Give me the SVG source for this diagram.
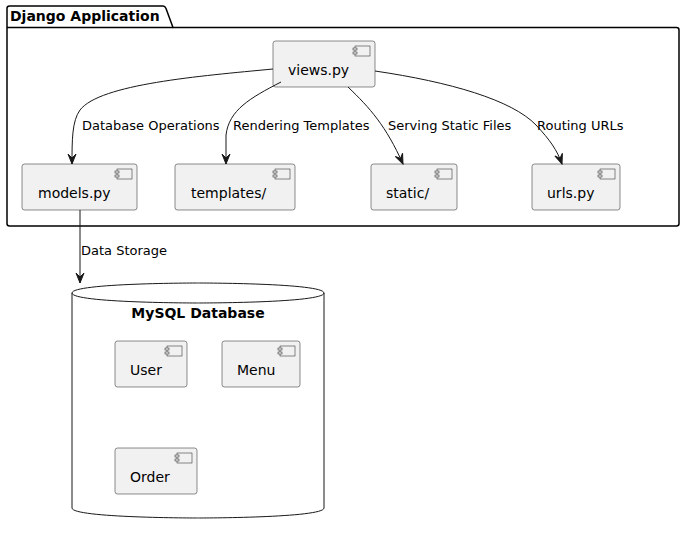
<svg xmlns="http://www.w3.org/2000/svg" width="685" height="534" viewBox="0 0 685 534">
<style>
text{font-family:"DejaVu Sans",sans-serif;fill:#000}
.comp{fill:#F1F1F1;stroke:#181818;stroke-width:0.5}
.icon{fill:#F1F1F1;stroke:#181818;stroke-width:0.5}
.name{font-size:14px}
.lbl{font-size:13px}
.title{font-size:14px;font-weight:bold}
.edge{fill:none;stroke:#181818;stroke-width:1}
</style>
<defs>
<marker id="ah" markerWidth="12" markerHeight="10" viewBox="-11 -5 12 10" refX="0" refY="0" orient="auto" markerUnits="userSpaceOnUse">
<path d="M0,0 L-10,-4 L-6,0 L-10,4 Z" fill="#181818" stroke="#181818" stroke-width="1"/>
</marker>
<g id="ic">
<rect x="0" y="0" width="15" height="10" class="icon"/>
<rect x="-2" y="2" width="4" height="2" class="icon"/>
<rect x="-2" y="6" width="4" height="2" class="icon"/>
</g>
</defs>
<rect width="685" height="534" fill="#FFFFFF"/>
<g id="pkg-django">
<path d="M9.5,6 L163,6 Q165,6 166,8.5 L173,27.5 L676.5,27.5 Q679,27.5 679,30 L679,223.5 Q679,226 676.5,226 L9.5,226 Q7,226 7,223.5 L7,8.5 Q7,6 9.5,6 Z" fill="none" stroke="#000" stroke-width="1.5"/>
<line x1="7" y1="27.5" x2="173" y2="27.5" stroke="#000" stroke-width="1.5"/>
<text x="10" y="21" class="title">Django Application</text>
</g>
<g id="db-mysql">
<path d="M72,293 C72,283 198,283 198,283 C198,283 324,283 324,293 L324,508 C324,518 198,518 198,518 C198,518 72,518 72,508 Z" fill="#FFFFFF" stroke="#181818" stroke-width="1"/>
<path d="M72,293 C72,303 198,303 198,303 C198,303 324,303 324,293" fill="none" stroke="#181818" stroke-width="1"/>
<text x="198" y="318" class="title" text-anchor="middle">MySQL Database</text>
</g>
<g id="views">
<rect x="273" y="41" width="102" height="46" rx="2.5" class="comp"/>
<use href="#ic" x="355" y="46"/>
<text x="288" y="75" class="name">views.py</text>
</g>
<g id="models">
<rect x="22" y="164" width="115" height="46" rx="2.5" class="comp"/>
<use href="#ic" x="117" y="169"/>
<text x="38" y="198" class="name">models.py</text>
</g>
<g id="templates">
<rect x="175" y="164" width="120" height="46" rx="2.5" class="comp"/>
<use href="#ic" x="275" y="169"/>
<text x="191" y="198" class="name">templates/</text>
</g>
<g id="static">
<rect x="371" y="164" width="86" height="46" rx="2.5" class="comp"/>
<use href="#ic" x="437" y="169"/>
<text x="386" y="198" class="name">static/</text>
</g>
<g id="urls">
<rect x="532" y="164" width="88" height="46" rx="2.5" class="comp"/>
<use href="#ic" x="600" y="169"/>
<text x="547" y="198" class="name">urls.py</text>
</g>
<g id="user">
<rect x="115" y="341" width="72" height="46" rx="2.5" class="comp"/>
<use href="#ic" x="167" y="346"/>
<text x="130" y="375" class="name">User</text>
</g>
<g id="menu">
<rect x="222" y="341" width="78" height="46" rx="2.5" class="comp"/>
<use href="#ic" x="280" y="346"/>
<text x="237" y="375" class="name">Menu</text>
</g>
<g id="order">
<rect x="115" y="448" width="82" height="46" rx="2.5" class="comp"/>
<use href="#ic" x="177" y="453"/>
<text x="130" y="482" class="name">Order</text>
</g>
<g id="connectors">
<path class="edge" marker-end="url(#ah)" d="M273,69 C200,76 100,84 80,110 C72,121 72,140 72,164"/>
<path class="edge" marker-end="url(#ah)" d="M281,82 C250,98 229,110 226,135 L226,164"/>
<path class="edge" marker-end="url(#ah)" d="M348,87 C370,108 386,126 403,164"/>
<path class="edge" marker-end="url(#ah)" d="M375,71 C450,82 512,100 536,125 C550,140 557,150 562,164"/>
<path class="edge" marker-end="url(#ah)" d="M80,210 L80,283"/>
<text x="82" y="130" class="lbl">Database Operations</text>
<text x="233" y="130" class="lbl">Rendering Templates</text>
<text x="388" y="130" class="lbl">Serving Static Files</text>
<text x="537" y="130" class="lbl">Routing URLs</text>
<text x="81" y="255" class="lbl">Data Storage</text>
</g>
</svg>
